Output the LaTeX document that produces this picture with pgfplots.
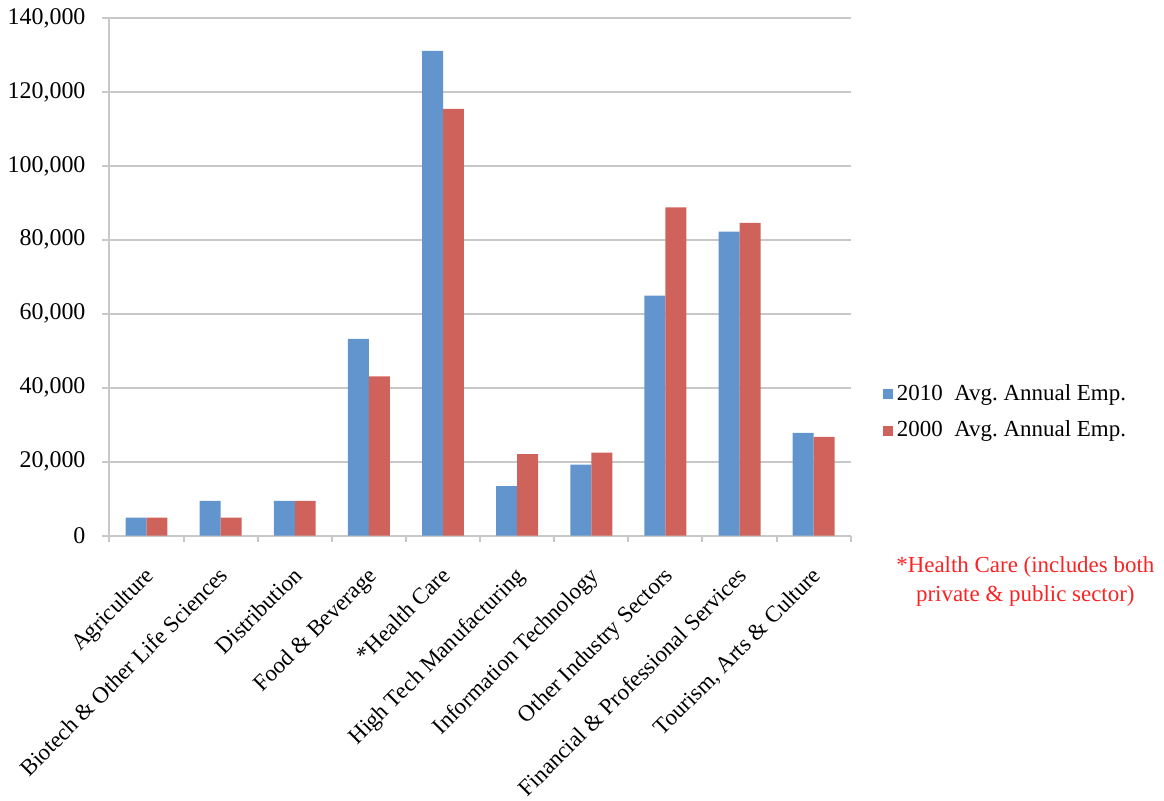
\documentclass[border=0pt]{standalone}
\usepackage{fontspec}
\setmainfont{Liberation Serif}
\usepackage{pgfplots}
\pgfplotsset{compat=1.18}
\definecolor{b10}{RGB}{98,149,205}
\definecolor{r00}{RGB}{207,99,92}
\definecolor{gridc}{RGB}{200,200,200}
\definecolor{notec}{RGB}{250,35,35}
\begin{document}
\frenchspacing
\fontsize{11.5}{14}\selectfont
\begin{tikzpicture}
\begin{axis}[
  scale only axis, width=371.5pt, height=259.5pt,
  clip=false,
  xmin=-0.5, xmax=9.5, ymin=0, ymax=140000,
  axis lines*=left,
  axis line style={draw=gridc, line width=1pt},
  tick align=outside,
  ybar=0pt, bar width=10.5pt,
  xtick={0,...,9},
  xticklabels={Agriculture, Biotech \& Other Life Sciences, Distribution, Food \& Beverage, *Health Care, High Tech Manufacturing, Information Technology, Other Industry Sectors, Financial \& Professional Services, {Tourism, Arts \& Culture}},
  x tick label style={rotate=45, anchor=north east, inner sep=1pt, xshift=-8pt, yshift=-6pt, font=\fontsize{11.5}{14}\selectfont},
  major x tick style={draw=none},
  minor xtick={-0.5,0.5,...,9.5},
  minor x tick style={draw=gridc, line width=1pt},
  minor tick length=3pt,
  ytick={0,20000,...,140000},
  yticklabels={0,{20,000},{40,000},{60,000},{80,000},{100,000},{120,000},{140,000}},
  major y tick style={draw=gridc, line width=1pt},
  major tick length=3.5pt,
  scaled y ticks=false,
  y tick label style={font=\fontsize{12}{14}\selectfont, xshift=-4.5pt},
  ymajorgrids, grid style={draw=gridc, line width=1pt},
  legend style={draw=none, fill=none, at={(1.043,0.238)}, anchor=west, font=\fontsize{11.5}{14}\selectfont, row sep=4.5pt, inner sep=0pt},
  legend cell align=left,
  legend image code/.code={\fill[#1] (0pt,-2.5pt) rectangle (5pt,2.5pt);},
]
\addplot[fill=b10, draw=none] coordinates {(0,4900) (1,9450) (2,9450) (3,53200) (4,131100) (5,13400) (6,19200) (7,64900) (8,82200) (9,27800)};
\addplot[fill=r00, draw=none] coordinates {(0,4900) (1,4900) (2,9450) (3,43100) (4,115400) (5,22100) (6,22500) (7,88800) (8,84600) (9,26700)};
\legend{2010\ \ Avg. Annual Emp., 2000\ \ Avg. Annual Emp.}
\node[text=notec, align=center, font=\fontsize{11.5}{14.5}\selectfont] at (rel axis cs:1.2355,-0.0877) {*Health Care (includes both\\private \& public sector)};
\end{axis}
\path (-53.5pt,-129pt) rectangle (528.5pt,268.5pt);
\end{tikzpicture}
\end{document}
